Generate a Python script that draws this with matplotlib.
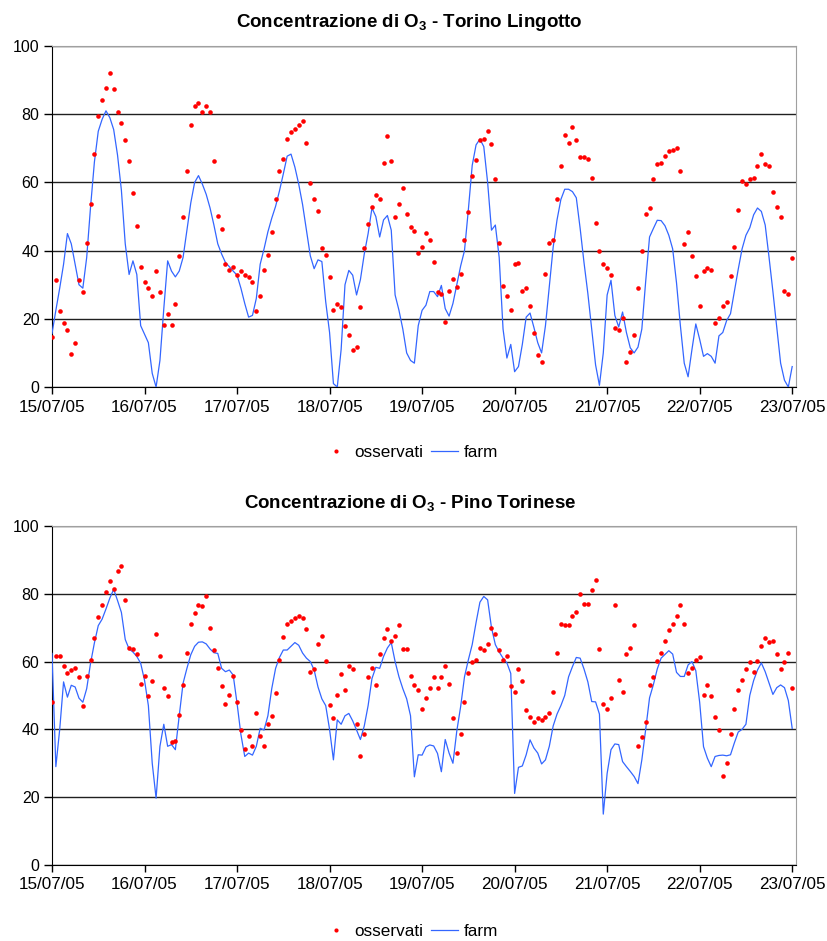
import matplotlib
matplotlib.use("Agg")
import matplotlib.pyplot as plt
import numpy as np
from matplotlib.lines import Line2D

plt.rcParams['font.family'] = ['Liberation Sans', 'DejaVu Sans']
plt.rcParams['mathtext.fontset'] = 'custom'
plt.rcParams['mathtext.rm'] = 'Liberation Sans:bold'
plt.rcParams['mathtext.it'] = 'Liberation Sans:bold'
plt.rcParams['mathtext.bf'] = 'Liberation Sans:bold'

# hourly values, 15/07/05 00:00 -> 23/07/05 00:00
day_labels = ['15/07/05', '16/07/05', '17/07/05', '18/07/05', '19/07/05',
              '20/07/05', '21/07/05', '22/07/05', '23/07/05']

lingotto_obs = [
    14.7, 31.3, 22.3, 18.8, 16.7, 9.8, 12.8, 31.3, 27.9, 42.3,
    53.8, 68.2, 79.4, 84.3, 87.8, 92, 87.4, 80.7, 77.3, 72.4,
    66.4, 56.9, 47.2, 35.2, 30.7, 28.9, 26.8, 33.9, 27.9, 18.1,
    21.5, 18.1, 24.4, 38.4, 49.9, 63.3, 76.9, 82.5, 83.3, 80.7,
    82.5, 80.7, 66.4, 50.3, 46.4, 36, 34.2, 35.2, 32.8, 33.9,
    32.8, 32.4, 30.7, 22.3, 26.8, 34.2, 38.7, 45.4, 55.2, 63.3,
    66.8, 72.7, 74.8, 75.8, 76.9, 78, 71.6, 59.8, 55.2, 51.7,
    40.9, 38.7, 32.4, 22.7, 24.4, 23.4, 18, 15.3, 10.8, 11.8,
    23.4, 40.9, 47.8, 52.7, 56.3, 55.2, 65.8, 73.7, 66.4, 49.9,
    53.8, 58.3, 50.7, 46.8, 45.7, 39.4, 41.1, 45.3, 43, 36.7,
    27.9, 27.3, 19.2, 28.3, 31.7, 29.3, 33.1, 43, 51.3, 61.8,
    66.7, 72.3, 72.7, 75.1, 71.3, 60.9, 42.3, 29.6, 26.8, 22.7,
    36, 36.3, 28.3, 29, 23.7, 15.7, 9.4, 7.2, 33.2, 42.3,
    43, 55.2, 64.7, 73.8, 71.6, 76.2, 72.3, 67.4, 67.4, 66.8,
    61.2, 48.1, 39.8, 36, 34.9, 32.8, 17.4, 16.7, 20.3, 7.2,
    10.4, 15.3, 29, 39.8, 50.7, 52.4, 60.9, 65.4, 65.8, 67.8,
    69.2, 69.5, 70, 63.3, 42, 45.4, 38.5, 32.5, 23.8, 33.9,
    34.9, 34.2, 18.8, 20.3, 23.8, 24.8, 32.5, 41.2, 51.8, 60.5,
    59.4, 60.9, 61.2, 64.7, 68.2, 65.4, 64.7, 57.3, 52.8, 50,
    28.3, 27.2, 37.7]

lingotto_farm = [
    15.7, 22.5, 29, 36, 45, 42, 36, 30, 29, 38,
    52.8, 66, 75, 78.5, 81, 79, 75.5, 68, 57.7, 42,
    33, 37, 33, 18, 15.5, 13, 4, 0, 7.8, 23,
    37, 34, 32.3, 34, 38, 46, 54, 60, 62, 59.5,
    56.5, 52.5, 47.5, 42, 39, 36.5, 35.3, 34, 32.8, 29,
    24.5, 20.5, 21, 26, 36, 40.5, 45.5, 49.5, 53, 57.5,
    62.5, 67.7, 68.3, 64.5, 59.5, 53.5, 46, 38.5, 34.7, 37.3,
    36.8, 25, 16, 1, 0, 11, 30, 34.2, 32.8, 27,
    31.5, 39, 45, 52.5, 50, 44, 49, 50.3, 46, 27,
    22.5, 17, 10, 7.8, 7, 18, 22.5, 24, 28, 28,
    26.5, 29.8, 23, 20.8, 24.5, 30, 35.5, 40, 52, 65,
    71, 72.7, 70.5, 60, 46, 47.5, 38, 17, 8.5, 12.5,
    4.5, 6, 12.5, 20.5, 21.7, 17.5, 13, 10, 18, 29.4,
    41, 49, 55, 58, 58, 57.3, 55.5, 46.5, 36.5, 27.4,
    17, 6.5, 0.5, 10, 27, 31.3, 21, 17.6, 22, 16,
    11.5, 10, 11.7, 17, 31, 44, 46.5, 48.9, 48.8, 47.3,
    44.5, 40.5, 30.5, 18, 7, 3, 11, 18.5, 14, 9,
    9.8, 9, 7, 15, 16, 19.5, 21.5, 28, 34.5, 40.5,
    44.5, 46.7, 50.5, 52.5, 51.5, 47.5, 38, 28, 17.5, 7,
    2, 0, 6]

pino_obs = [
    48.2, 61.6, 61.6, 58.8, 56.6, 57.5, 58, 55.3, 46.8, 55.7,
    60.5, 66.9, 73.2, 76.7, 80.5, 83.7, 81.5, 86.8, 88.3, 78.1,
    64, 63.7, 62.2, 53.5, 55.7, 49.7, 54.2, 68.2, 61.6, 52.1,
    49.7, 36.4, 36.7, 44.1, 53.2, 62.6, 71.1, 74.2, 76.7, 76.3,
    79.2, 70, 63.3, 58.1, 52.8, 47.5, 50, 55.6, 48.2, 39.8,
    34.1, 38.1, 35.2, 44.7, 38.1, 35.2, 41.5, 44, 50.6, 60.5,
    67.2, 71, 72.1, 72.8, 73.5, 72.8, 69.6, 57, 57.7, 65.1,
    67.6, 60.2, 47.1, 43.3, 50, 56.2, 51.7, 58.8, 57.7, 41.5,
    32.1, 38.7, 55.3, 58.1, 53.2, 62.2, 66.9, 69.6, 66.1, 67.6,
    70.7, 63.7, 63.7, 55.7, 53.2, 51.7, 46.1, 49.3, 52.1, 55.3,
    52.1, 55.3, 58.8, 53.5, 43.3, 33.1, 38.7, 48.2, 56.6, 59.8,
    60.5, 64, 63.3, 65.1, 70, 68.2, 63.3, 60.5, 61.6, 52.8,
    51, 57.7, 54.2, 45.7, 43.7, 42.3, 43.3, 42.7, 43.7, 44.7,
    51, 62.6, 71, 70.7, 70.7, 73.5, 74.5, 79.8, 77, 77,
    81.2, 84, 63.6, 47.5, 46.1, 49.3, 76.6, 54.5, 51, 62.2,
    64, 70.7, 35.2, 37.7, 42.3, 53.1, 55.3, 60.2, 62.6, 66.1,
    69.3, 71, 73.5, 76.6, 71, 56.6, 58.1, 60.5, 61.3, 50,
    53.1, 49.7, 43.7, 39.8, 26.1, 30, 38.7, 46.1, 51.7, 54.5,
    57.7, 59.8, 57, 60.2, 64.7, 66.9, 65.8, 66.1, 62.2, 57.7,
    59.8, 62.6, 52.1]

pino_farm = [
    62.4, 29, 40, 54, 49.5, 53, 52.5, 49.2, 48, 52,
    59.5, 65.5, 70.6, 72.5, 75.5, 78.7, 81.3, 78, 74.5, 66.5,
    63.7, 62.8, 61.5, 59.5, 54.5, 47, 30, 19.7, 35, 41.5,
    35, 35.5, 34, 44, 53.6, 58, 62, 64.5, 65.7, 65.8,
    65.2, 63.7, 62.6, 62.4, 58, 57, 57.5, 56, 47.7, 38.5,
    32, 33, 32.4, 35, 40.3, 39.8, 44, 52, 58, 61.2,
    63.4, 63.4, 64.5, 65.6, 64.8, 62.5, 61, 60, 57.5, 52.5,
    49, 47, 40, 31, 42.8, 41.5, 44, 44.7, 42.5, 39.8,
    37, 41, 47, 55, 58.3, 58, 61.5, 64, 65.6, 60,
    55.5, 52, 49, 44, 26, 32.5, 32.4, 34.8, 35.4, 35.1,
    32.9, 27.5, 37, 33, 30, 39.5, 46.7, 55.5, 60.5, 65,
    71.5, 77.5, 79.2, 78.2, 70, 65, 62.8, 61, 59.6, 56.5,
    21.1, 28.8, 29.2, 32.5, 36.9, 34.5, 33, 29.8, 31, 35,
    41, 44.5, 47, 50, 55.5, 58.5, 61.2, 61, 57.8, 54,
    48.2, 48.1, 44.5, 15, 27, 34, 35.7, 35.5, 30.5, 29,
    27.6, 26.1, 24, 31, 40, 49.3, 53.2, 57.8, 61, 62.1,
    63.2, 62.2, 56.8, 55.6, 55.6, 59, 60, 57.3, 48, 34.9,
    31.5, 29, 32, 32.3, 32.4, 32.2, 32.5, 36, 39.2, 40,
    41.5, 50, 54.4, 57.5, 59.6, 57, 53.6, 50.3, 52.3, 53.1,
    52.3, 48.5, 40.3]

titles = [r"Concentrazione di O$_3$ - Torino Lingotto",
          r"Concentrazione di O$_3$ - Pino Torinese"]

fig = plt.figure(figsize=(8.28, 9.41), dpi=100)

ax1 = fig.add_axes([0.0628, 0.5887, 0.8986, 0.3624])
ax2 = fig.add_axes([0.0628, 0.0808, 0.8986, 0.3603])

for ax, obs, farm, title, ty, ly in [(ax1, lingotto_obs, lingotto_farm, titles[0], 0.9766, 0.519),
                                     (ax2, pino_obs, pino_farm, titles[1], 0.4655, 0.0096)]:
    hours = np.arange(len(obs))
    ax.plot(hours, farm, color='#3366ff', lw=0.9, zorder=3)
    ax.plot(hours, obs, 'o', color='red', ms=3.3, mec='none', zorder=4)

    ax.set_xlim(0, 193)
    ax.set_ylim(0, 100)
    ax.set_xticks(np.arange(0, 193, 24))
    ax.set_xticklabels(day_labels, fontsize=12.3)
    ax.set_yticks(np.arange(0, 101, 20))
    ax.set_yticklabels([str(v) for v in range(0, 101, 20)], fontsize=11.5)
    ax.tick_params(axis='x', direction='out', length=5, width=1, pad=4)
    ax.tick_params(axis='y', direction='out', length=6, width=1, pad=3)
    ax.yaxis.grid(True, color='#202020', lw=1.0)
    ax.set_axisbelow(True)
    for s in ['top', 'right']:
        ax.spines[s].set_color('#a0a0a0')
    for s in ['left', 'bottom']:
        ax.spines[s].set_color('black')

    fig.text(0.495, ty, title, ha='center', va='center', fontsize=13.5, fontweight='bold')

    handles = [Line2D([], [], marker='o', color='red', ls='none', ms=3.0, mec='none'),
               Line2D([], [], color='#3366ff', lw=0.9)]
    fig.legend(handles, ['osservati', 'farm'], loc='center', bbox_to_anchor=(0.495, ly),
               ncol=2, frameon=False, fontsize=12.3, handlelength=1.6,
               handletextpad=0.3, columnspacing=0.45)

fig.savefig('out.png', dpi=100)
